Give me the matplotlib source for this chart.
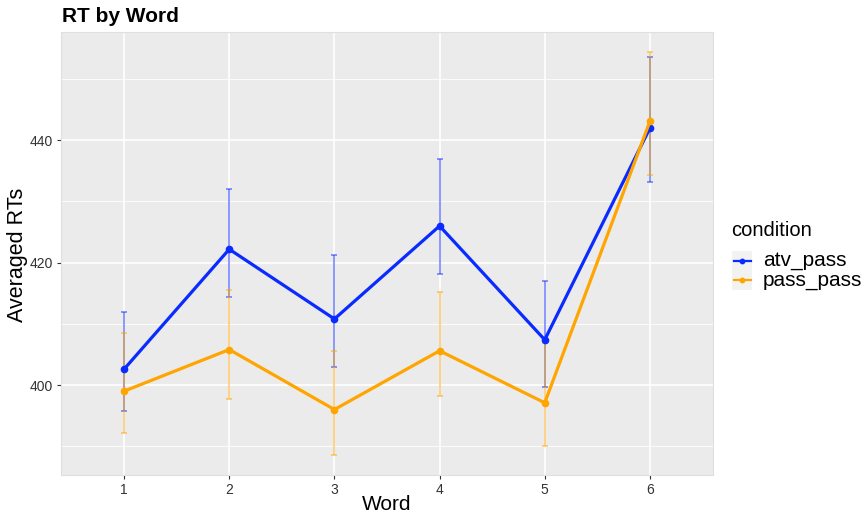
import matplotlib
matplotlib.use("Agg")
import matplotlib.pyplot as plt
from matplotlib.lines import Line2D
from matplotlib.patches import Rectangle
import numpy as np

plt.rcParams['font.family'] = ['Liberation Sans', 'DejaVu Sans']

words = [1, 2, 3, 4, 5, 6]
word_labels = ["1", "2", "3", "4", "5", "6"]
atv_mean = [402.6, 422.2, 410.8, 426.0, 407.4, 442.0]
atv_low = [395.8, 414.4, 403.0, 418.2, 399.7, 433.2]
atv_high = [411.9, 432.1, 421.3, 436.9, 417.0, 453.6]
pass_mean = [399.0, 405.8, 396.0, 405.6, 397.1, 443.1]
pass_low = [392.1, 397.8, 388.5, 398.2, 390.0, 434.4]
pass_high = [408.5, 415.6, 405.6, 415.2, 406.8, 454.4]
yticks = [400, 420, 440]
minor_yticks = [390, 410, 430, 450]
conditions = ["atv_pass", "pass_pass"]

blue = "#0A2BFF"
orange = "#FFA500"
colors = [blue, orange]

W, H = 865, 516
fig = plt.figure(figsize=(8.65, 5.16), dpi=100)
ax = fig.add_axes([61/W, 1-475/H, (713-61)/W, (475-32)/H])
ax.set_facecolor("#EBEBEB")

for series, lo, hi, col in [(atv_mean, atv_low, atv_high, blue),
                            (pass_mean, pass_low, pass_high, orange)]:
    m = np.array(series); l = np.array(lo); h = np.array(hi)
    ax.errorbar(words, m, yerr=[m - l, h - m], fmt='none', ecolor=col,
                elinewidth=1.1, capsize=2.5, capthick=1.1, alpha=0.6, zorder=3)
    ax.plot(words, m, color=col, lw=2.3, marker='o', ms=4.5, zorder=4)

ax.set_xlim(0.4, 6.6)
ax.set_ylim(385.3, 457.7)
ax.set_xticks(words)
ax.set_xticklabels(word_labels)
ax.set_yticks(yticks)
ax.set_yticks(minor_yticks, minor=True)
ax.grid(which='major', color='white', lw=1.2, zorder=0)
ax.grid(which='minor', axis='y', color='white', lw=0.6, zorder=0)
ax.set_axisbelow(True)
for s in ax.spines.values():
    s.set_color("#DCDFE4")
    s.set_linewidth(0.8)
ax.tick_params(which='major', length=3, color="#333333", labelsize=10,
               labelcolor="#333333", width=0.8, pad=2.5)
ax.tick_params(which='minor', length=0)

fig.text(387/W, 1-505/H, "Word", fontsize=15, ha='center', va='center')
fig.text(18/W, 1-255/H, "Averaged RTs", fontsize=15.5, ha='center',
         va='center', rotation=90)
fig.text(62/W, 1-22.5/H, "RT by Word", fontsize=15, fontweight='bold',
         va='baseline', ha='left')

# legend
fig.text(731/W, 1-231/H, "condition", fontsize=14.5, ha='left', va='center')
key_rows = [261, 280]
for yc, col, lab in zip(key_rows, colors, conditions):
    fig.add_artist(Rectangle((732/W, 1-(yc+9.7)/H), 20/W, 19.4/H,
                             transform=fig.transFigure, facecolor="#F2F2F2",
                             edgecolor='none'))
    fig.add_artist(Line2D([733.5/W, 750.5/W], [1-yc/H, 1-yc/H],
                          transform=fig.transFigure, color=col, lw=1.6))
    fig.add_artist(Line2D([742/W], [1-yc/H], transform=fig.transFigure,
                          color=col, marker='o', ms=3.2, lw=0))
    fig.text(763/W, 1-yc/H, lab, fontsize=15, ha='left', va='center')

fig.savefig("out.png", dpi=100, facecolor="white")
